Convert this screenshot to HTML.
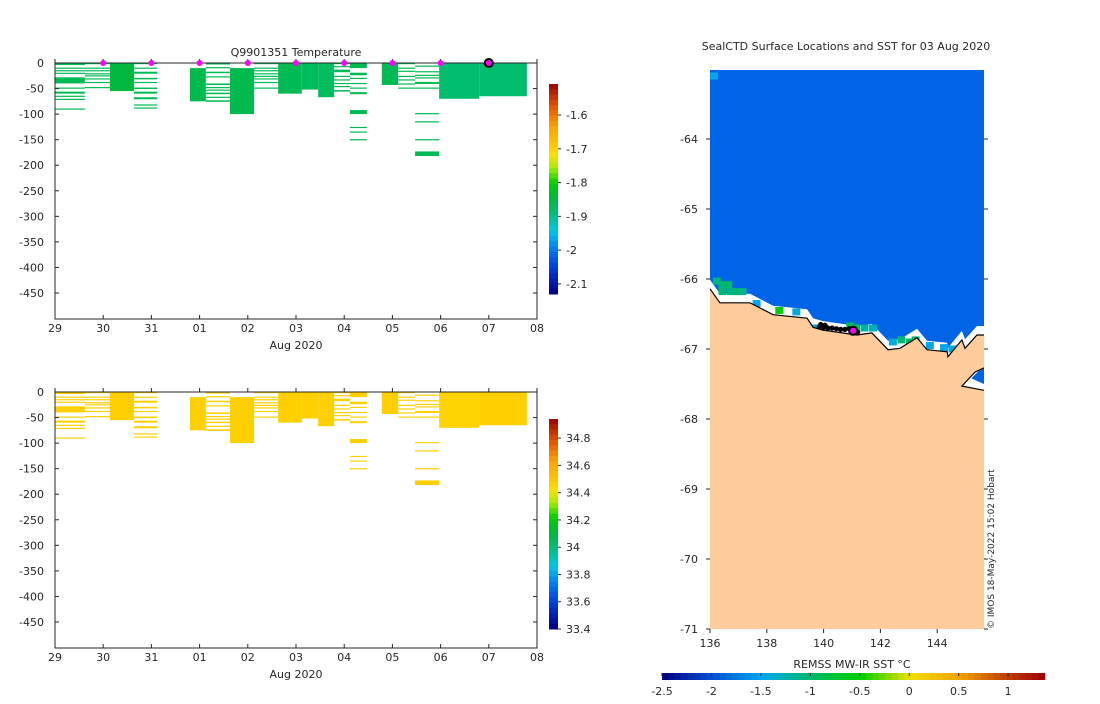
<!DOCTYPE html>
<html><head><meta charset="utf-8">
<style>
body{margin:0;background:#fff;width:1100px;height:700px;overflow:hidden;font-family:"DejaVu Sans","Liberation Sans",sans-serif}
svg text{font-family:"DejaVu Sans","Liberation Sans",sans-serif;font-size:11px;fill:#262626}
</style></head><body>
<svg id="s" width="1100" height="700" xmlns="http://www.w3.org/2000/svg"></svg>
<script>
// ---------- DATA ----------
const dayLabels=["29","30","31","01","02","03","04","05","06","07","08"];
const depthTicks=[0,-50,-100,-150,-200,-250,-300,-350,-400,-450];
const profStart=[0,0.62,1.14,1.64,2.80,3.13,3.63,4.13,4.63,5.12,5.46,5.79,6.12,6.78,7.12,7.47,7.97,8.80];
const profEnd=[0.62,1.14,1.64,2.12,3.13,3.63,4.13,4.63,5.12,5.46,5.79,6.12,6.47,7.12,7.47,7.97,8.80,9.79];
const profTemp=[-1.865,-1.865,-1.85,-1.865,-1.86,-1.865,-1.86,-1.865,-1.865,-1.87,-1.875,-1.865,-1.865,-1.865,-1.865,-1.865,-1.885,-1.885];
const profSal=[34.47,34.47,34.47,34.47,34.47,34.47,34.47,34.47,34.47,34.47,34.47,34.47,34.47,34.47,34.47,34.47,34.46,34.47];
const profSegs=[
 [[0,4],[9,11],[14,16],[19,21],[28,40],[48,50],[56,60],[64,66],[70,72],[89,91]],
 [[0,2],[9,11],[14,16],[20,22],[24,26],[30,32],[37,39],[47,49]],
 [[0,55]],
 [[0,2],[9,11],[17,21],[29,32],[37,39],[48,51],[56,60],[67,71],[81,83],[87,89]],
 [[10,75]],
 [[0,3],[8,10],[17,20],[26,28],[40,43],[47,49],[52,54],[58,61],[66,68],[73,76]],
 [[10,100]],
 [[0,2],[9,11],[14,16],[20,22],[25,27],[30,32],[37,39],[48,50]],
 [[0,60]],
 [[0,52]],
 [[0,67]],
 [[0,2],[6,8],[13,18],[25,27],[32,34],[39,41],[45,47],[53,56]],
 [[0,10],[19,24],[29,31],[39,41],[48,50],[57,61],[92,100],[125,127],[134,136],[149,151]],
 [[0,43]],
 [[0,2],[9,11],[15,17],[25,27],[32,34],[40,42],[48,50]],
 [[5,7],[16,18],[23,25],[28,30],[37,41],[48,50],[98,100],[114,116],[149,151],[173,182]],
 [[0,70]],
 [[0,65]]
];
const surfDays=[1,2,3,4,5,6,7,8,9];
const tempTicks=[-1.6,-1.7,-1.8,-1.9,-2,-2.1];
const salTicks=[34.8,34.6,34.4,34.2,34,33.8,33.6,33.4];
const lonTicks=[136,138,140,142,144];
const latTicks=[-64,-65,-66,-67,-68,-69,-70,-71];
const sstTicks=[-2.5,-2,-1.5,-1,-0.5,0,0.5,1];
const coastLon=[136.00,136.35,137.41,138.22,139.42,139.63,139.98,141.18,141.70,142.27,142.69,143.29,143.64,144.35,144.38,144.87,144.98,145.40,145.65];
const coastLat=[-66.14,-66.34,-66.34,-66.51,-66.56,-66.69,-66.73,-66.80,-66.77,-67.01,-66.99,-66.84,-67.01,-67.04,-67.11,-66.87,-66.99,-66.80,-66.80];
const cellLon=[136.1,136.3,136.3,136.5,136.6,136.8,137.0,137.5,138.3,138.9,139.6,140.8,141.0,141.3,141.6,142.3,142.6,142.9,143.1,143.6,144.1,144.4,136.0];
const cellLat=[-65.98,-66.03,-66.13,-66.03,-66.13,-66.13,-66.13,-66.3,-66.4,-66.42,-66.65,-66.62,-66.65,-66.65,-66.65,-66.85,-66.82,-66.85,-66.82,-66.9,-66.93,-66.95,-63.05];
const cellVal=[-1.1,-1.0,-1.0,-1.0,-1.1,-1.0,-1.1,-1.5,-0.5,-1.4,-1.4,-0.9,-0.9,-1.2,-1.3,-1.4,-1.0,-1.0,-1.0,-1.5,-1.5,-1.4,-1.5];
const trackLon=[139.85,139.9,139.95,140.0,140.05,140.15,140.3,140.45,140.6,140.75,140.9,141.0,141.1,141.2];
const trackLat=[-66.68,-66.65,-66.67,-66.69,-66.66,-66.70,-66.70,-66.71,-66.72,-66.72,-66.71,-66.72,-66.74,-66.76];
// ---------- helpers ----------
const S=document.getElementById('s');const NS="http://www.w3.org/2000/svg";
function el(t,a,p){const e=document.createElementNS(NS,t);for(const k in a)e.setAttribute(k,a[k]);(p||S).appendChild(e);return e;}
function txt(x,y,s,anchor,p){const e=el('text',{x:x,y:y,'text-anchor':anchor||'middle'},p);e.textContent=s;return e;}
function hex(h){return [parseInt(h.substr(1,2),16),parseInt(h.substr(3,2),16),parseInt(h.substr(5,2),16)];}
function interp(stops,t){t=Math.max(0,Math.min(1,t));for(let i=1;i<stops.length;i++){if(t<=stops[i][0]){const a=stops[i-1],b=stops[i];const f=(t-a[0])/(b[0]-a[0]);const A=hex(a[1]),B=hex(b[1]);return 'rgb('+A.map((v,j)=>Math.round(v+(B[j]-v)*f)).join(',')+')';}}return stops[stops.length-1][1];}
const cmStops=[[0,'#000080'],[0.1,'#0030d0'],[0.2,'#0070f0'],[0.3,'#00c8e8'],[0.38,'#00c078'],[0.45,'#00b840'],[0.53,'#00d000'],[0.6,'#a0f000'],[0.66,'#ffe000'],[0.7,'#ffcc00'],[0.8,'#ffa000'],[0.9,'#e05000'],[1,'#a00000']];
function cmap(t){return interp(cmStops,t);}
const sstStops=[[0,'#000080'],[0.13,'#0050d0'],[0.26,'#00a8f0'],[0.39,'#00b868'],[0.52,'#00d000'],[0.65,'#f0e000'],[0.78,'#f0a000'],[0.9,'#c04000'],[1,'#a00000']];
function sstmap(v){return interp(sstStops,(v+2.5)/3.87);}
// ---------- section plots ----------
const X0=55,X1=537,dayW=(X1-X0)/10;
function xd(d){return X0+d*dayW;}
function section(y0,name,vals,vmin,vmax,cbTop,cbBot,ticks,fmt,title){
 const g=el('g',{});
 const yd=v=>y0+(-v)*0.5111;
 const yBot=y0+256;
 profSegs.forEach((segs,i)=>{
  const col=cmap((vals[i]-vmin)/(vmax-vmin));
  segs.forEach(s=>{
   const r=el('rect',{x:xd(profStart[i]),y:yd(-s[0]),width:xd(profEnd[i])-xd(profStart[i]),height:Math.max(1.2,(s[1]-s[0])*0.5111),fill:col},g);
   
   
  });
 });
 el('path',{d:`M${X0},${y0}H${X1}V${yBot}H${X0}Z`,fill:'none',stroke:'#262626','stroke-width':1},g);
 depthTicks.forEach(v=>{const y=yd(v);el('line',{x1:X0,x2:X0+4,y1:y,y2:y,stroke:'#262626'},g);el('line',{x1:X1-4,x2:X1,y1:y,y2:y,stroke:'#262626'},g);const t=txt(X0-11,y+4,String(v),'end',g);});
 dayLabels.forEach((l,i)=>{const x=xd(i);el('line',{x1:x,x2:x,y1:yBot,y2:yBot-4,stroke:'#262626'},g);el('line',{x1:x,x2:x,y1:y0,y2:y0-4,stroke:'#262626'},g);const t=txt(x,yBot+13,l,'middle',g);});
 const xl=txt(296,yBot+30,'Aug 2020','middle',g);
 if(title){const tt=txt(296,y0-7,title,'middle',g);}
 const cb=el('g',{},g);
 const n=40,h=(cbBot-cbTop)/n;
 for(let k=0;k<n;k++){el('rect',{x:549,y:cbTop+k*h,width:9,height:h+0.5,fill:cmap(1-(k+0.5)/n)},cb);}
 ticks.forEach(v=>{const y=cbBot-(v-vmin)/(vmax-vmin)*(cbBot-cbTop);el('line',{x1:558,x2:561,y1:y,y2:y,stroke:'#262626'},cb);const t=txt(566,y+4,fmt(v),'start',cb);});
 return g;
}
section(63,'temperature-section',profTemp,-2.13,-1.508,84,294,tempTicks,v=>String(v),'Q9901351  Temperature');
section(392,'salinity-section',profSal,33.4,34.94,419,629,salTicks,v=>String(v),null);
surfDays.forEach((d,i)=>{
 const last=i===surfDays.length-1;
 const c=el('circle',{cx:xd(d),cy:63,r:last?4:3,fill:'#ff00ff',stroke:last?'#000':'none','stroke-width':last?2:0});
 
 
});
// ---------- map ----------
const MX0=710,MX1=984,MY0=70,MY1=629;
const lx=l=>MX0+(l-136)*28.4, ly=l=>139+(-64-l)*70;
const mg=el('g',{});
el('rect',{x:MX0,y:MY0,width:MX1-MX0,height:MY1-MY0,fill:'#0064e6'},mg);
let wp='M'+coastLon.map((l,i)=>lx(l)+','+(ly(coastLat[i])-9)).join('L');
wp+='L'+coastLon.slice().reverse().map((l,i)=>lx(l)+','+(ly(coastLat[coastLat.length-1-i])+2)).join('L')+'Z';
el('path',{d:wp,fill:'#fff'},mg);
cellLon.forEach((l,i)=>{const r=el('rect',{x:lx(l),y:ly(cellLat[i]),width:8,height:7,fill:sstmap(cellVal[i])},mg);});
el('path',{d:`M${lx(144.87)},${ly(-67.53)}L${lx(145.33)},${ly(-67.33)}L${MX1},${ly(-67.27)}L${MX1},${ly(-67.59)}Z`,fill:'#fff'},mg);
el('path',{d:`M${lx(145.2)},${ly(-67.42)}L${lx(145.45)},${ly(-67.32)}L${MX1},${ly(-67.28)}L${MX1},${ly(-67.5)}Z`,fill:'#0064e6'},mg);
let lp='M'+coastLon.map((l,i)=>lx(l)+','+ly(coastLat[i])).join('L');
lp+=`L${MX1},${ly(-67.27)}L${lx(145.33)},${ly(-67.33)}L${lx(144.87)},${ly(-67.53)}L${MX1},${ly(-67.59)}L${MX1},${MY1}L${MX0},${MY1}Z`;
const land=el('path',{d:lp,fill:'#fecb9a',stroke:'none'},mg);
el('path',{d:'M'+coastLon.map((l,i)=>lx(l)+','+ly(coastLat[i])).join('L'),fill:'none',stroke:'#000','stroke-width':1.2},mg);
el('path',{d:`M${MX1},${ly(-67.27)}L${lx(145.33)},${ly(-67.33)}L${lx(144.87)},${ly(-67.53)}L${MX1},${ly(-67.59)}`,fill:'none',stroke:'#000','stroke-width':1.2},mg);
trackLon.forEach((l,i)=>{const c=el('circle',{cx:lx(l),cy:ly(trackLat[i]),r:2.6,fill:'#000'},mg);});
const cur=el('circle',{cx:lx(141.04),cy:ly(-66.74),r:4,fill:'#ff00ff',stroke:'#000','stroke-width':2},mg);
latTicks.forEach(v=>{const y=ly(v);el('line',{x1:MX0-4,x2:MX0,y1:y,y2:y,stroke:'#262626'},mg);el('line',{x1:MX1,x2:MX1+4,y1:y,y2:y,stroke:'#262626'},mg);const t=txt(MX0-12,y+4,String(v),'end',mg);});
lonTicks.forEach(v=>{const x=lx(v);el('line',{x1:x,x2:x,y1:MY1,y2:MY1+4,stroke:'#262626'},mg);const t=txt(x,647,String(v),'middle',mg);});
const mt=txt(846,50,'SealCTD Surface Locations and SST for 03 Aug 2020','middle',mg);
const cp=el('text',{x:0,y:0,transform:'translate(994,629) rotate(-90)','text-anchor':'start',style:'font-size:9px'},mg);cp.textContent='© IMOS 18-May-2022 15:02 Hobart';
const sg=el('g',{});
const sx=v=>662+(v+2.5)*98.9;
const N=60;for(let k=0;k<N;k++){const v0=-2.5+k*3.87/N;el('rect',{x:sx(v0),y:673,width:3.87/N*98.9+0.5,height:7,fill:sstmap(v0+1.935/N)},sg);}
sstTicks.forEach(v=>{const x=sx(v);el('line',{x1:x,x2:x,y1:673,y2:676,stroke:'#262626'},sg);const t=txt(x,695,String(v),'middle',sg);});
const st=txt(852,668,'REMSS MW-IR SST °C','middle',sg);
</script>
</body></html>
